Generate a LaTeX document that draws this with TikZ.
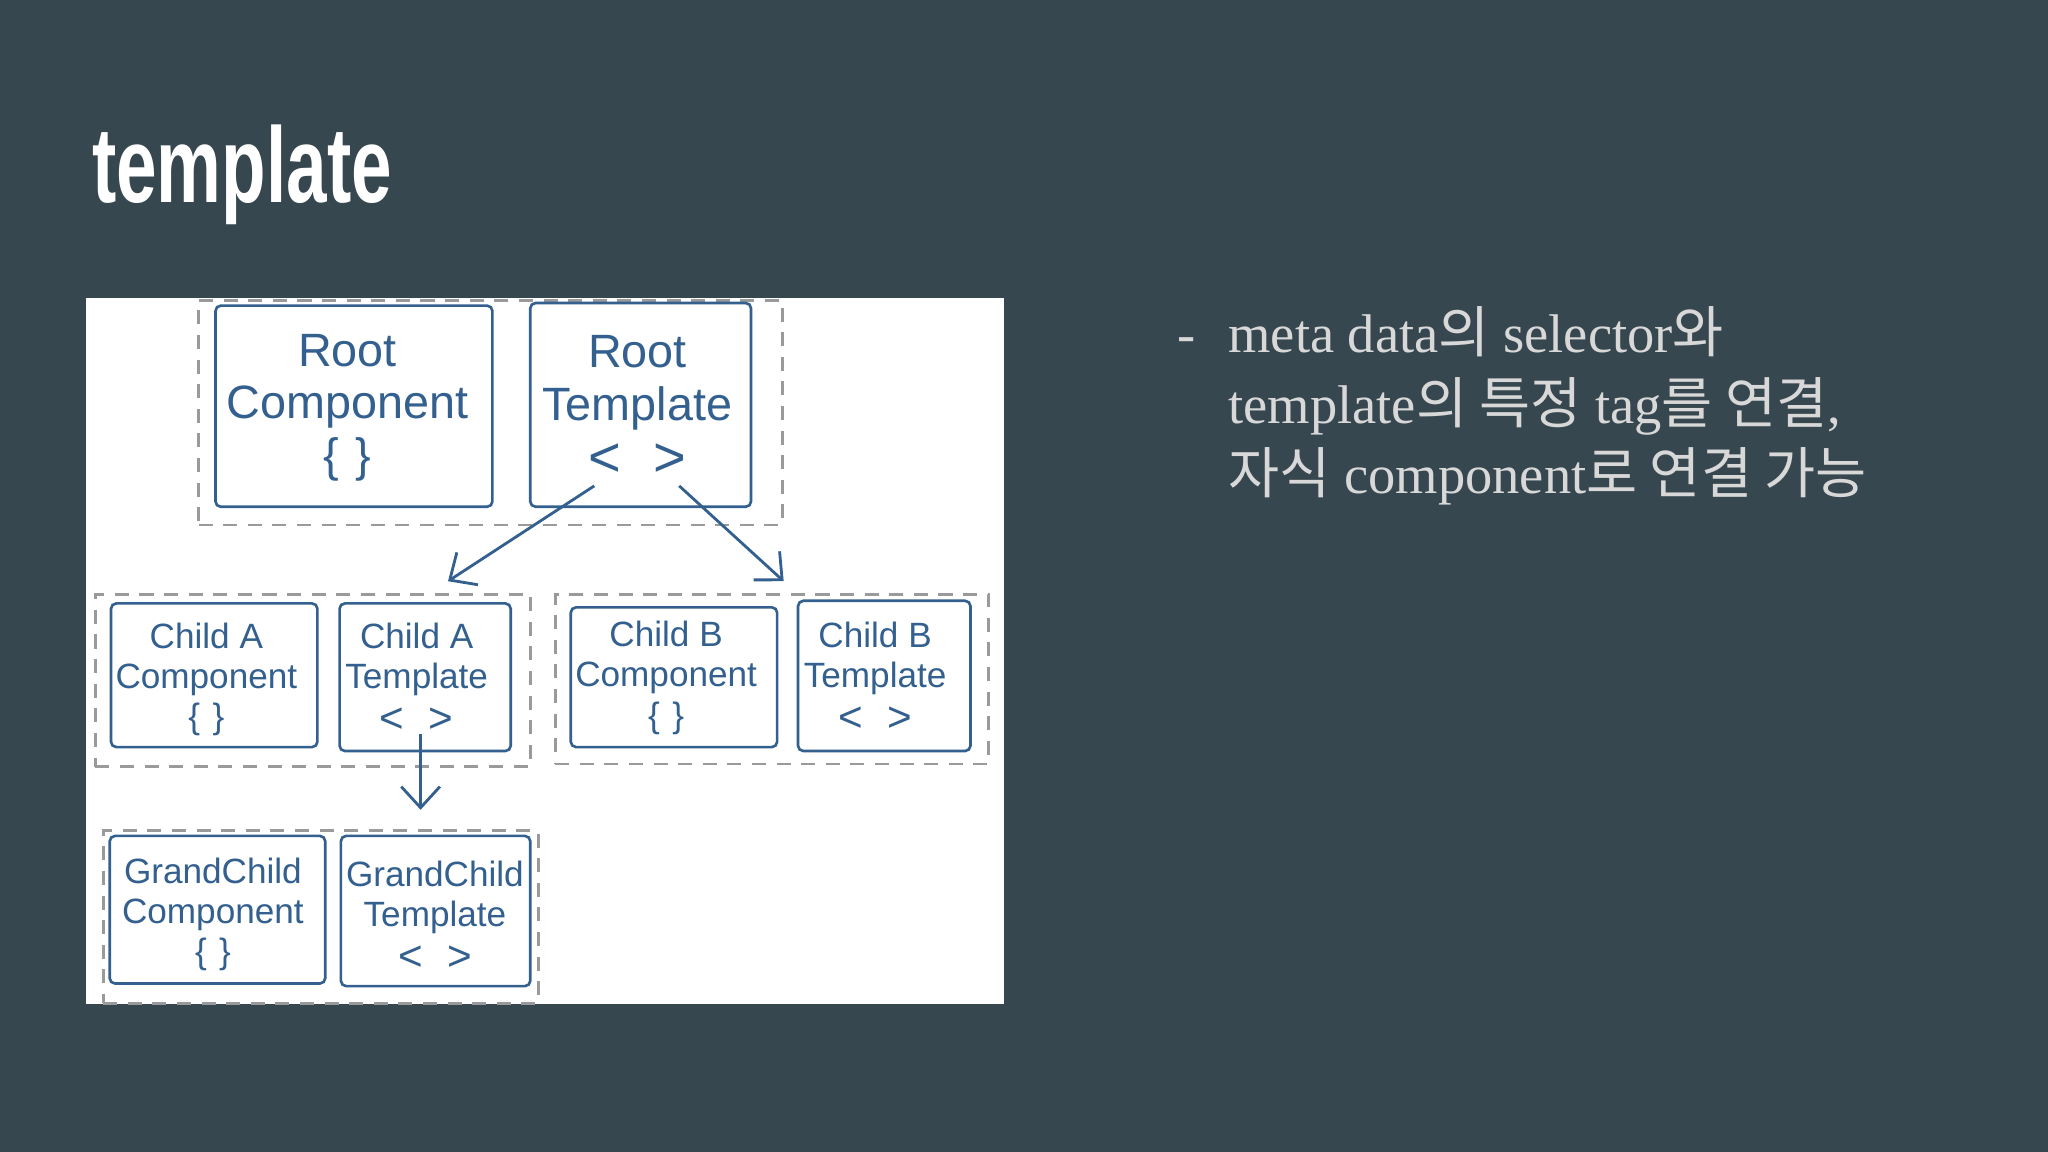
\documentclass[tikz,border=0pt]{standalone}
\usepackage{graphicx}
\usepackage{fontspec}
\setmainfont{Liberation Serif}
\newfontfamily\kr{Noto Sans CJK KR}[Scale=1.02]
\newfontfamily\titlefont{Liberation Sans}
\newfontfamily\handfont{Liberation Sans}
\usetikzlibrary{fit,arrows.meta}
\definecolor{bg}{HTML}{37474F}
\definecolor{bodytxt}{HTML}{D8D8D8}
\definecolor{sketch}{HTML}{34608F}
\definecolor{grp}{HTML}{9A9A9A}
\newcommand\chev{\scalebox{1.2}{<}\hspace{0.7em}\scalebox{1.2}{>}}
\newcommand\brc{\{\hspace{0.35em}\}}
\tikzset{
  grpbox/.style={draw=grp, line width=0.8pt, dash pattern=on 4pt off 3pt, inner sep=0pt},
  skbox/.style={draw=sketch, line width=0.75pt, rounded corners=1.5pt, inner sep=0pt},
  lbl/.style={align=center, inner sep=0pt, text=sketch},
  bigtxt/.style={font=\handfont\fontsize{13.3}{15}\selectfont},
  smalltxt/.style={font=\handfont\fontsize{10}{11.4}\selectfont},
  arr/.style={draw=sketch, line width=0.8pt, -{Straight Barb[length=6pt,width=11pt]}},
  bodyline/.style={anchor=base west, inner sep=0pt, text=bodytxt, font=\fontsize{15.5}{20}\selectfont}
}
\begin{document}
\begin{tikzpicture}[x=0.01306cm,y=-0.01306cm]
\fill[bg] (0,0) rectangle (1568,882);
\useasboundingbox (0,0) rectangle (1568,882);
% title
\node[anchor=base west, inner sep=0pt, text=white, font=\titlefont\bfseries\fontsize{30.5}{36}\selectfont] (title) at (70,155) {\scalebox{0.68}[1]{template}};
% white panel
\node[fit={(66,228)(769,769)}, inner sep=0pt, fill=white] (panel) {};
% groups
\node[grpbox, fit={(152,230)(599,402)}] (g0) {};
\node[grpbox, fit={(73,455)(406,587)}] (ga) {};
\node[grpbox, fit={(425,455)(757,585)}] (gb) {};
\node[grpbox, fit={(79,636)(412,768)}] (gg) {};
% boxes
\node[skbox, fit={(165,234)(377,388)}] (rc) {};
\node[skbox, fit={(406,232)(575,388)}] (rt) {};
\node[skbox, fit={(85,462)(243,572)}] (cac) {};
\node[skbox, fit={(260,462)(391,575)}] (cat) {};
\node[skbox, fit={(437,465)(595,572)}] (cbc) {};
\node[skbox, fit={(611,460)(743,575)}] (cbt) {};
\node[skbox, fit={(84,640)(249,753)}] (gcc) {};
\node[skbox, fit={(261,640)(406,755)}] (gct) {};
% labels
\node[lbl, bigtxt] (rcL) at (266,312) {Root\\Component\\\brc};
\node[lbl, bigtxt] (rtL) at (488,311) {Root\\Template\\[1pt]\chev};
\node[lbl, smalltxt] (cacL) at (158,520) {Child A\\Component\\\brc};
\node[lbl, smalltxt] (catL) at (319,519) {Child A\\Template\\[1pt]\chev};
\node[lbl, smalltxt] (cbcL) at (510,519) {Child B\\Component\\\brc};
\node[lbl, smalltxt] (cbtL) at (670,518) {Child B\\Template\\[1pt]\chev};
\node[lbl, smalltxt] (gccL) at (163,700) {GrandChild\\Component\\\brc};
\node[lbl, smalltxt] (gctL) at (333,701) {GrandChild\\Template\\[1pt]\chev};
% arrows
\coordinate (a1s) at (455,372);
\coordinate (a1e) at (343,445);
\coordinate (a2s) at (520,372);
\coordinate (a2e) at (600,445);
\coordinate (a3s) at (322,562);
\coordinate (a3e) at (322,620);
\draw[arr] (a1s) -- (a1e);
\draw[arr] (a2s) -- (a2e);
\draw[arr] (a3s) -- (a3e);
% body text
\node[bodyline] (dash) at (901,270) {-};
\node[bodyline] (l1) at (940,270) {meta data{\kr 의} selector{\kr 와}};
\node[bodyline] (l2) at (940,324) {template{\kr 의 특정} tag{\kr 를 연결},};
\node[bodyline] (l3) at (940,378) {{\kr 자식} component{\kr 로 연결 가능}};
\end{tikzpicture}
\end{document}
